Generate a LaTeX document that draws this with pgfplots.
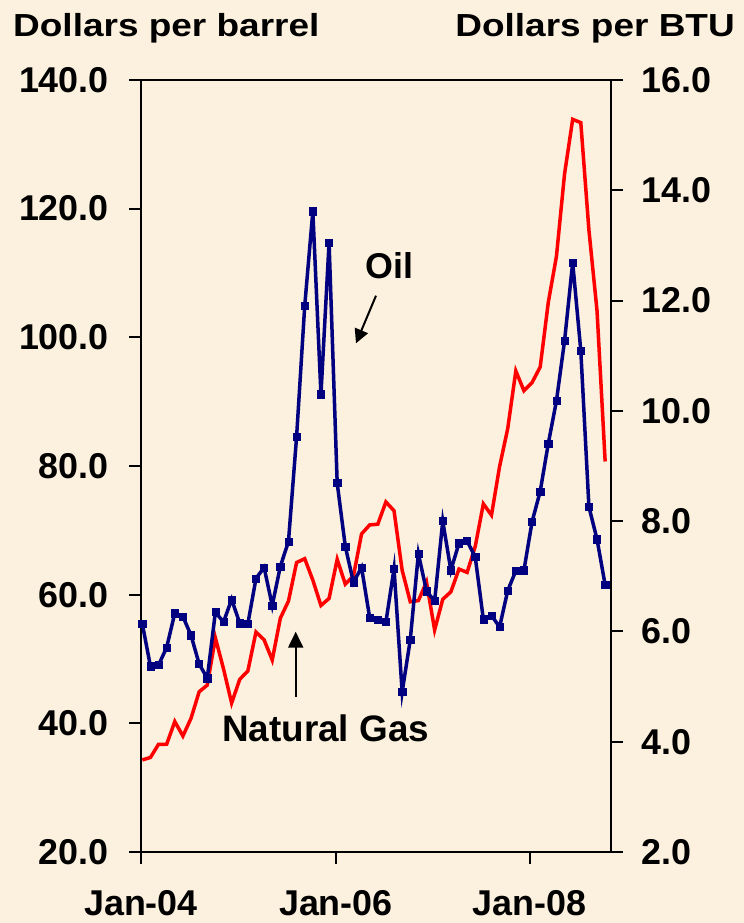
\documentclass[border=0pt]{standalone}
\usepackage{pgfplots}
\pgfplotsset{compat=1.18}
\usepackage{fontspec}
\setmainfont{Liberation Sans}
\newfontfamily\titlefont{Liberation Sans}[FakeStretch=1.16]
\usetikzlibrary{arrows.meta}
\definecolor{bg}{RGB}{252,240,222}
\definecolor{navy}{RGB}{0,0,128}
\definecolor{oilred}{RGB}{255,0,0}

\pgfplotstableread{
i oil
0 34.31
1 34.69
2 36.74
3 36.75
4 40.28
5 38.03
6 40.78
7 44.90
8 45.94
9 53.28
10 48.47
11 43.15
12 46.84
13 48.15
14 54.19
15 52.98
16 49.83
17 56.35
18 59.00
19 64.99
20 65.59
21 62.26
22 58.32
23 59.41
24 65.49
25 61.63
26 62.90
27 69.44
28 70.84
29 70.95
30 74.41
31 73.04
32 63.80
33 58.89
34 59.08
35 61.96
36 54.51
37 59.28
38 60.44
39 63.98
40 63.46
41 67.49
42 74.12
43 72.36
44 79.92
45 85.80
46 94.77
47 91.69
48 92.97
49 95.39
50 105.45
51 112.58
52 125.40
53 133.88
54 133.37
55 116.67
56 104.11
57 80.70
}\oiltable

\pgfplotstableread{
i gas
0 6.14
1 5.37
2 5.39
3 5.71
4 6.33
5 6.27
6 5.93
7 5.41
8 5.15
9 6.35
10 6.17
11 6.58
12 6.15
13 6.14
14 6.96
15 7.16
16 6.47
17 7.18
18 7.63
19 9.53
20 11.90
21 13.62
22 10.30
23 13.05
24 8.69
25 7.54
26 6.89
27 7.16
28 6.25
29 6.21
30 6.17
31 7.14
32 4.90
33 5.85
34 7.41
35 6.73
36 6.55
37 8.00
38 7.11
39 7.60
40 7.64
41 7.35
42 6.22
43 6.29
44 6.08
45 6.74
46 7.10
47 7.11
48 7.99
49 8.54
50 9.41
51 10.18
52 11.27
53 12.69
54 11.09
55 8.26
56 7.67
57 6.84
}\gastable

\begin{document}
\begin{tikzpicture}[x=1bp,y=1bp]
\fill[bg] (0,0) rectangle (744,923);
\useasboundingbox (0,0) rectangle (744,923);
\pgfplotsset{
  myaxis/.style={
    at={(141bp,71bp)}, anchor=south west,
    scale only axis, width=470bp, height=772bp,
    xmin=-0.16, xmax=57.72,
    tick align=outside,
    major tick length=12bp,
    axis line style={line width=2bp, black},
    major tick style={line width=2bp, black},
    /pgf/number format/assume math mode=true,
    tick label style={font=\bfseries\fontsize{36}{36}\selectfont, inner sep=0pt},
    clip=false,
  }
}
\begin{axis}[myaxis,
  ymin=20, ymax=140,
  ytick={20,40,...,140},
  xtick={-0.16,23.84,47.7},
  xticklabels={Jan-04,Jan-06,Jan-08},
  xtick pos=left, ytick pos=left,
  yticklabel={\pgfmathprintnumber[fixed,fixed zerofill,precision=1]{\tick}},
  yticklabel style={anchor=east, xshift=-20bp},
  xticklabel style={anchor=north, yshift=-26bp},
]
\addplot[oilred, line width=3.5bp, no markers] table[x=i, y=oil] {\oiltable};
\end{axis}
\begin{axis}[myaxis,
  ymin=2, ymax=16,
  ytick={2,4,...,16},
  axis x line=none,
  axis y line*=right,
  ytick pos=right,
  yticklabel={\pgfmathprintnumber[fixed,fixed zerofill,precision=1]{\tick}},
  yticklabel style={anchor=west, xshift=18bp},
]
\addplot[navy, line width=3.5bp, mark=square*, mark size=3.6bp,
  mark options={solid, fill=navy, line width=0.5bp}] table[x=i, y=gas] {\gastable};
\end{axis}

\node[anchor=base west, inner sep=0pt, font=\titlefont\bfseries\fontsize{32}{32}\selectfont] at (13,886.3) {Dollars per barrel};
\node[anchor=base east, inner sep=0pt, font=\titlefont\bfseries\fontsize{32}{32}\selectfont] at (735,886.3) {Dollars per BTU};

\node[anchor=base west, inner sep=0pt, font=\bfseries\fontsize{36}{36}\selectfont] at (365,644.7) {Oil};
\node[anchor=base west, inner sep=0pt, font=\bfseries\fontsize{37}{37}\selectfont] at (222,181.3) {Natural Gas};

\draw[line width=2bp, -{Triangle[length=14bp,width=14bp]}] (376,627.3) -- (356,579.7);
\draw[line width=2bp, -{Triangle[length=16bp,width=15bp]}] (295.7,226.3) -- (295.7,291.3);
\end{tikzpicture}
\end{document}
